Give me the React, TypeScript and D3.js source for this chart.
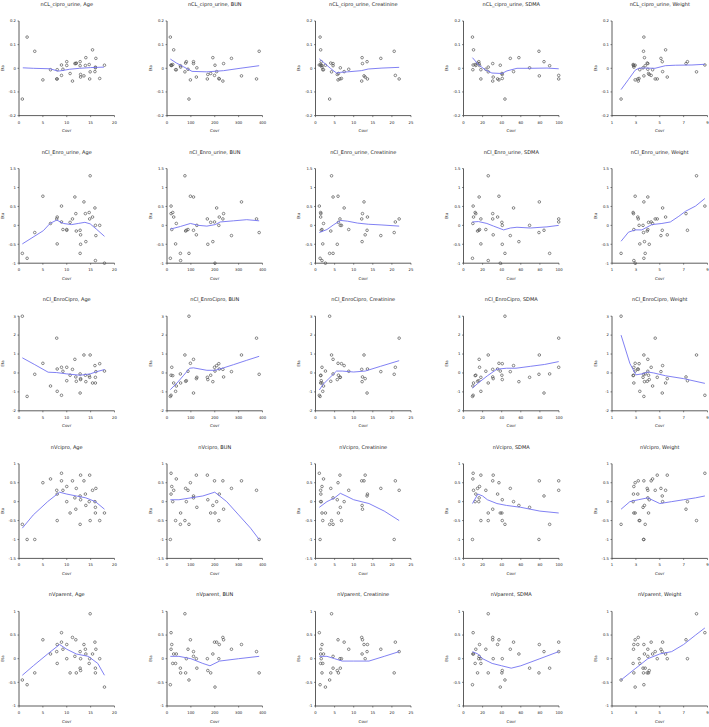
import React from 'react';
import * as d3 from 'd3';

// ---- Subject covariates (one entry per animal) ----
const age = [0.7, 1.7, 3.3, 5.0, 6.6, 7.9, 8.0, 8.0, 8.9, 8.9, 9.2, 10.0, 10.0, 10.7, 11.2, 11.7, 11.9, 12.0, 12.8, 12.8, 12.9, 12.9, 13.6, 13.9, 14.0, 14.7, 14.8, 14.9, 15.4, 15.9, 16.0, 16.0, 16.1, 16.9, 17.9];
const bun = [92, 14, 386, 98, 39, 375, 219, 36, 17, 199, 88, 81, 20, 183, 234, 111, 237, 78, 111, 56, 123, 171, 312, 17, 192, 24, 169, 75, 28, 208, 125, 57, 270, 217, 201];
const creatinine = [3.7, 1.2, 20.6, 5.9, 2.1, 21.9, 13.6, 1.9, 1.0, 20.9, 8.7, 1.5, 1.7, 6.0, 12.1, 4.6, 12.3, 4.0, 13.5, 4.6, 13.0, 5.7, 12.7, 1.4, 12.2, 1.35, 6.4, 4.2, 1.35, 7.5, 6.5, 1.7, 17.1, 6.8, 2.6];
const sdma = [43.4, 9.4, 79, 37.1, 9.8, 99.7, 35.7, 18.2, 10.1, 99.7, 23.4, 16.0, 16.8, 40.2, 30.6, 16.4, 30.6, 14.7, 84.3, 90.2, 31.1, 40.6, 79.4, 12.9, 58, 12.2, 18.2, 25.9, 10.5, 52.4, 69.2, 25.9, 49, 40.6, 38.5];
const weight = [1.76, 3.67, 3.64, 2.94, 4.4, 4.62, 3.16, 3.33, 8.78, 4.28, 4.0, 7.32, 2.83, 4.06, 3.2, 4.0, 7.2, 3.95, 5.21, 3.78, 5.63, 4.12, 3.67, 2.8, 3.72, 2.77, 4.79, 8.08, 5.49, 5.24, 3.6, 2.83, 5.1, 3.27, 2.94];

// ---- Random-effect estimates (Eta) per parameter ----
const etaCiproUrine = [-0.13, 0.132, 0.072, -0.049, -0.006, -0.045, -0.045, -0.006, 0.014, -0.03, -0.004, 0.028, 0.012, -0.022, -0.054, 0.02, 0.02, 0.022, 0.028, 0.011, -0.037, -0.026, -0.032, 0.012, 0.045, 0.016, -0.045, -0.015, 0.078, -0.014, 0.002, 0.005, 0.042, -0.043, 0.013];
const etaEnroUrine = [-0.74, -0.87, -0.19, 0.77, 0.05, 0.17, 0.22, -0.49, 0.51, 0.09, -0.11, -0.13, -0.11, 0.08, 0.17, 0.75, 0.31, -0.15, -0.13, -0.74, -0.25, -0.5, 0.62, 0.31, -0.43, 0.34, 0.17, 1.31, 0.22, 0.46, 0.0, -0.93, -0.27, 0.0, -1.0];
const etaEnroCipro = [3.0, -1.24, -0.07, 0.51, -0.69, 1.84, 0.21, -0.97, -1.18, 0.3, 0.09, -0.41, 0.3, -0.12, 0.19, 0.72, -0.21, -0.44, -1.06, -0.05, -0.3, -0.35, 0.95, -0.12, -0.46, -0.14, -0.23, 0.95, -0.53, 0.39, -0.23, -0.53, 0.07, 0.49, 0.1];
const etaVcipro = [-0.6, -1.0, -1.0, 0.5, 0.6, 0.3, 0.2, -0.5, 0.75, 0.55, 0.3, 0.0, 0.4, -0.3, 0.55, 0.1, -0.2, 0.35, 0.15, -0.6, 0.7, 0.05, 0.55, 0.2, -0.1, 0.0, 0.7, -0.5, 0.3, 0.0, -0.15, -0.3, 0.35, -0.5, -0.3];
const etaVparent = [-0.45, -0.55, -0.3, 0.4, 0.1, 0.15, 0.3, -0.1, 0.55, 0.35, 0.2, 0.0, 0.3, -0.3, 0.45, 0.05, 0.4, -0.3, 0.15, -0.2, 0.0, -0.25, 0.3, 0.2, 0.1, -0.1, 0.0, 0.95, 0.1, 0.35, -0.2, -0.3, 0.2, 0.0, -0.6];

// ---- Smooth (loess) curves ----
const smoothCiproUrine = [
  [[0.8, 0.002], [3, 0.0], [6.5, -0.002], [8.2, -0.012], [9.2, -0.009], [10.6, -0.004], [12.7, 0.0], [15, 0.003], [17.8, 0.005]],
  [[14, 0.039], [40, 0.022], [70, 0.006], [105, -0.013], [167, -0.015], [237, -0.01], [306, 0.0], [386, 0.011]],
  [[1.0, 0.04], [2.1, 0.025], [3.9, 0.0], [5.5, -0.02], [6.6, -0.017], [8.4, -0.015], [12, -0.01], [13.8, -0.003], [17.4, 0.001], [21.9, 0.004]],
  [[9.4, 0.045], [15.7, 0.015], [22.7, -0.006], [29.7, -0.02], [40.2, -0.022], [45.5, -0.011], [56, 0.0], [70, 0.0], [87.4, 0.001], [99.7, -0.002]],
  [[1.76, -0.09], [2.37, -0.048], [2.94, -0.008], [3.28, 0.001], [3.78, 0.001], [4.6, 0.0], [5.47, 0.011], [6.3, 0.013], [7.7, 0.014], [8.78, 0.017]],
];
const smoothEnroUrine = [
  [[0.7, -0.49], [5.1, -0.14], [6.5, 0.05], [7.9, 0.14], [9.3, 0.05], [11, 0.02], [12.4, 0.05], [13.8, 0.08], [14.9, 0.04], [16.3, -0.11], [17.9, -0.29]],
  [[14, -0.1], [56, -0.03], [98, 0.05], [132, 0.0], [167, -0.02], [202, 0.02], [223, 0.09], [279, 0.12], [334, 0.15], [386, 0.12]],
  [[1.0, -0.19], [3.0, -0.11], [4.8, 0.02], [6.6, 0.13], [8.4, 0.11], [11, 0.06], [13.8, 0.03], [17.4, 0.01], [21.9, -0.02]],
  [[9.4, 0.09], [15.7, 0.1], [24.5, 0.05], [31.5, -0.02], [42, -0.12], [49, -0.07], [56, -0.05], [70, -0.07], [87.4, -0.04], [99.7, 0.0]],
  [[1.76, -0.42], [2.38, -0.18], [2.94, -0.12], [3.5, -0.12], [3.92, -0.05], [4.34, 0.02], [5.18, 0.05], [5.89, 0.09], [6.6, 0.24], [7.15, 0.37], [8.0, 0.51], [8.78, 0.71]],
];
const smoothEnroCipro = [
  [[0.7, 0.8], [3.3, 0.44], [6.1, 0.04], [7.9, 0.02], [10, -0.05], [12.8, -0.12], [14.9, -0.05], [16.3, 0.07], [17.9, 0.18]],
  [[14, -0.88], [42, -0.53], [70, -0.12], [95, 0.25], [111, 0.27], [167, 0.14], [202, 0.14], [237, 0.27], [279, 0.44], [334, 0.67], [386, 0.88]],
  [[1.0, -0.9], [2, -0.6], [3.5, -0.3], [5.5, 0.1], [7, 0.1], [10, 0.05], [13, 0.1], [17, 0.35], [21.9, 0.65]],
  [[9.4, -0.8], [15, -0.55], [25, -0.15], [35, 0.2], [45, 0.25], [55, 0.25], [70, 0.35], [85, 0.45], [99.7, 0.6]],
  [[1.76, 2.0], [2.5, 0.5], [3, -0.1], [3.5, -0.05], [4, 0.05], [4.5, 0.0], [5.5, -0.15], [7, -0.3], [8.78, -0.55]],
];
const smoothVcipro = [
  [[0.7, -0.7], [3, -0.35], [6, 0.0], [8.5, 0.25], [10, 0.2], [12, 0.15], [14, 0.1], [16, 0.0], [17.9, -0.2]],
  [[14, 0.05], [50, 0.05], [100, 0.1], [150, 0.15], [200, 0.25], [250, 0.0], [300, -0.35], [350, -0.7], [386, -1.0]],
  [[1.0, -0.15], [3, 0.0], [5, 0.1], [6.5, 0.22], [8, 0.15], [10, 0.05], [14, -0.05], [18, -0.25], [21.9, -0.5]],
  [[9.4, -0.05], [15, 0.2], [20, 0.15], [25, 0.05], [35, -0.05], [45, -0.1], [60, -0.15], [80, -0.25], [99.7, -0.3]],
  [[1.76, -0.2], [2.5, 0.0], [3.2, 0.05], [4, 0.1], [5, -0.05], [6, 0.0], [7, 0.05], [8, 0.1], [8.78, 0.15]],
];
const smoothVparent = [
  [[0.7, -0.35], [3, -0.15], [6, 0.1], [8.5, 0.3], [10, 0.2], [12, 0.1], [14.5, 0.05], [16.5, -0.1], [17.9, -0.35]],
  [[14, 0.05], [50, 0.05], [100, 0.0], [150, -0.1], [180, -0.15], [220, -0.05], [300, 0.0], [386, 0.05]],
  [[1.0, 0.05], [3, 0.05], [5, 0.0], [7, -0.05], [10, -0.05], [14, -0.05], [18, 0.05], [21.9, 0.15]],
  [[9.4, 0.15], [15, 0.1], [20, 0.0], [30, -0.1], [40, -0.15], [50, -0.2], [60, -0.15], [80, 0.0], [99.7, 0.15]],
  [[1.76, -0.45], [2.5, -0.3], [3, -0.2], [3.5, -0.1], [4, 0.0], [5, 0.1], [6, 0.15], [7, 0.3], [8, 0.5], [8.78, 0.65]],
];

// ---- Panel definitions ----
const parameters = ['nCL_cipro_urine', 'nCl_Enro_urine', 'nCl_EnroCipro', 'nVcipro', 'nVparent'];
const covariates = ['Age', 'BUN', 'Creatinine', 'SDMA', 'Weight'];
const covariateValues = [age, bun, creatinine, sdma, weight];
const etaValues = [etaCiproUrine, etaEnroUrine, etaEnroCipro, etaVcipro, etaVparent];
const smoothCurves = [smoothCiproUrine, smoothEnroUrine, smoothEnroCipro, smoothVcipro, smoothVparent];
const xDomains = [[0, 20], [0, 400], [0, 25], [0, 100], [1, 9]];
const xTickValues = [[0, 5, 10, 15, 20], [0, 100, 200, 300, 400], [0, 5, 10, 15, 20, 25], [0, 20, 40, 60, 80, 100], [1, 3, 5, 7, 9]];
const yDomains = [[-0.2, 0.2], [-1, 1.5], [-2, 3], [-1.5, 1], [-1, 1]];
const yTickValues = [[-0.2, -0.1, 0, 0.1, 0.2], [-1, -0.5, 0, 0.5, 1, 1.5], [-2, -1, 0, 1, 2, 3], [-1.5, -1, -0.5, 0, 0.5, 1], [-1, -0.5, 0, 0.5, 1]];

const W = 709;
const H = 727;
const colLeft = [19, 167, 315.5, 463.5, 612];
const plotW = 95.5;
const plotH = 94.6;
const rowTop = (r: number) => 21 + 147.6 * r;

const FONT = 'DejaVu Sans, Verdana, sans-serif';
const AXIS = '#333';
const LINE = '#7373f2';

function Panel({ r, c }: { r: number; c: number }) {
  const left = colLeft[c];
  const top = rowTop(r);
  const x = d3.scaleLinear().domain(xDomains[c]).range([left, left + plotW]);
  const y = d3.scaleLinear().domain(yDomains[r]).range([top + plotH, top]);
  const xs = covariateValues[c];
  const ys = etaValues[r];
  const line = d3.line<number[]>().x((d) => x(d[0])).y((d) => y(d[1]));
  const bottom = top + plotH;
  const cx = left + plotW / 2;
  return (
    <g>
      <text x={cx} y={top - 15} textAnchor="middle" fontSize={5} fontFamily={FONT} fill="#222">
        {`${parameters[r]}, ${covariates[c]}`}
      </text>
      <line x1={x(xDomains[c][0])} x2={x(xDomains[c][1])} y1={bottom} y2={bottom} stroke={AXIS} strokeWidth={0.8} />
      <line x1={left} x2={left} y1={y(yDomains[r][0])} y2={y(yDomains[r][1])} stroke={AXIS} strokeWidth={0.8} />
      {xTickValues[c].map((t) => (
        <g key={'x' + t}>
          <line x1={x(t)} x2={x(t)} y1={bottom} y2={bottom + 1.5} stroke={AXIS} strokeWidth={0.6} />
          <text x={x(t)} y={bottom + 8} textAnchor="middle" fontSize={3.8} fontFamily={FONT} fill="#222">
            {String(t)}
          </text>
        </g>
      ))}
      {yTickValues[r].map((t) => (
        <g key={'y' + t}>
          <line x1={left - 1.5} x2={left} y1={y(t)} y2={y(t)} stroke={AXIS} strokeWidth={0.6} />
          <text x={left - 3} y={y(t) + 1.3} textAnchor="end" fontSize={3.8} fontFamily={FONT} fill="#222">
            {String(t)}
          </text>
        </g>
      ))}
      <text x={cx} y={bottom + 16.5} textAnchor="middle" fontSize={4} fontFamily={FONT} fill="#222">
        Covr
      </text>
      <text
        transform={`translate(${left - 15.5},${top + plotH / 2}) rotate(-90)`}
        textAnchor="middle"
        fontSize={4}
        fontFamily={FONT}
        fill="#222"
      >
        Eta
      </text>
      {xs.map((v, i) => (
        <circle key={i} cx={x(v)} cy={y(ys[i])} r={1.3} fill="none" stroke="#555" strokeWidth={0.7} />
      ))}
      <path d={line(smoothCurves[r][c]) || ''} fill="none" stroke={LINE} strokeWidth={0.9} />
    </g>
  );
}

export default function App() {
  const cells: { r: number; c: number }[] = [];
  for (let r = 0; r < 5; r++) for (let c = 0; c < 5; c++) cells.push({ r, c });
  return (
    <svg
      width={W}
      height={H}
      viewBox={`0 0 ${W} ${H}`}
      style={{ position: 'absolute', left: 0, top: 0, background: '#fff' }}
    >
      <rect x={0} y={0} width={W} height={H} fill="#fff" />
      {cells.map(({ r, c }) => (
        <Panel key={`${r}-${c}`} r={r} c={c} />
      ))}
    </svg>
  );
}
